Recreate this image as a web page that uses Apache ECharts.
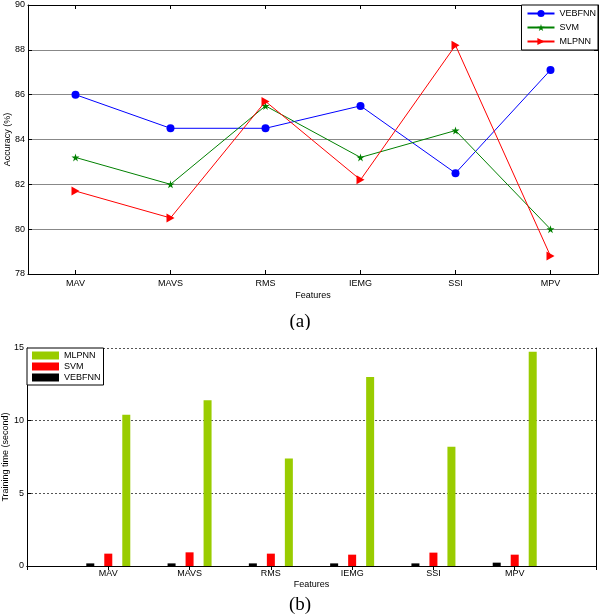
<!DOCTYPE html>
<html>
<head>
<meta charset="utf-8">
<script src="https://cdn.jsdelivr.net/npm/echarts@6/dist/echarts.min.js"></script>
<style>
html,body{margin:0;padding:0;background:#fff;}
#a{position:absolute;left:0;top:0;width:600px;height:330px;}
#b{position:absolute;left:0;top:330px;width:600px;height:286px;}
</style>
</head>
<body>
<div id="a"></div>
<div id="b"></div>
<script>
const categories = ['MAV', 'MAVS', 'RMS', 'IEMG', 'SSI', 'MPV'];
const accVEBFNN = [86.0, 84.5, 84.5, 85.5, 82.5, 87.1];
const accSVM = [83.2, 82.0, 85.5, 83.2, 84.4, 80.0];
const accMLPNN = [81.7, 80.5, 85.7, 82.2, 88.2, 78.8];
const accRange = [78, 90, 2];
const timeMLPNN = [10.4, 11.4, 7.4, 13.0, 8.2, 14.75];
const timeSVM = [0.85, 0.94, 0.85, 0.78, 0.92, 0.78];
const timeVEBFNN = [0.18, 0.18, 0.18, 0.18, 0.18, 0.23];
const timeRange = [0, 15, 5];

const FONT = 'Liberation Sans, Arial, sans-serif';
const STAR = 'path://M50,0 L61,35 L98,35 L68,57 L79,91 L50,70 L21,91 L32,57 L2,35 L39,35 Z';
const TRI = 'path://M0,0 L10,5 L0,10 Z';
const axLine = {show: true, lineStyle: {color: '#000', width: 1}};
const lab = {color: '#000', fontSize: 9, fontFamily: FONT};
const nameStyle = {fontSize: 9, fontFamily: FONT, color: '#000'};

// ---------- chart (a) ----------
const ca = echarts.init(document.getElementById('a'), null, {renderer: 'canvas'});
const lineSeries = (name, data, color, symbol, size) => ({
  name, type: 'line', data, xAxisIndex: 0, yAxisIndex: 0,
  symbol, symbolSize: size, showSymbol: true,
  lineStyle: {color, width: 1},
  itemStyle: {color},
  animation: false
});
ca.setOption({
  animation: false,
  title: {text: '(a)', left: 'center', top: 308,
    textStyle: {fontFamily: 'Liberation Serif, Times New Roman, serif', fontSize: 19, fontWeight: 'normal', color: '#000'}},
  grid: {left: 28, right: 2, top: 5, bottom: 56, outerBoundsMode: 'none', containLabel: false},
  legend: {
    right: 2, top: 5, orient: 'vertical',
    data: ['VEBFNN', 'SVM', 'MLPNN'],
    itemWidth: 27, itemHeight: 9, itemGap: 5,
    padding: [4, 2, 4, 5],
    borderColor: '#000', borderWidth: 1, backgroundColor: '#fff',
    textStyle: {fontSize: 9, fontFamily: FONT, color: '#000'}
  },
  xAxis: [
    {type: 'category', data: categories, boundaryGap: true, position: 'bottom',
      axisLine: axLine, axisTick: {show: true, inside: true, alignWithLabel: true, length: 4, lineStyle: {color: '#000'}},
      axisLabel: Object.assign({margin: 5}, lab),
      name: 'Features', nameLocation: 'middle', nameGap: 17, nameMoveOverlap: false,
      nameTextStyle: nameStyle},
    {type: 'category', data: categories, boundaryGap: true, position: 'top',
      axisLine: axLine, axisTick: {show: true, inside: true, alignWithLabel: true, length: 4, lineStyle: {color: '#000'}},
      axisLabel: {show: false}}
  ],
  yAxis: [
    {type: 'value', min: accRange[0], max: accRange[1], interval: accRange[2], position: 'left',
      axisLine: axLine, axisTick: {show: true, inside: true, length: 4, lineStyle: {color: '#000'}},
      axisLabel: Object.assign({margin: 3}, lab),
      splitLine: {show: true, lineStyle: {color: '#888', width: 1.2}},
      name: 'Accuracy (%)', nameLocation: 'middle', nameGap: 16, nameMoveOverlap: false,
      nameTextStyle: nameStyle},
    {type: 'value', min: accRange[0], max: accRange[1], interval: accRange[2], position: 'right',
      axisLine: axLine, axisTick: {show: true, inside: true, length: 4, lineStyle: {color: '#000'}},
      axisLabel: {show: false}, splitLine: {show: false}}
  ],
  series: [
    lineSeries('VEBFNN', accVEBFNN, '#0000ff', 'circle', 8),
    lineSeries('SVM', accSVM, '#008000', STAR, 8),
    lineSeries('MLPNN', accMLPNN, '#ff0000', TRI, [8, 9])
  ]
});

// ---------- chart (b) ----------
const cb = echarts.init(document.getElementById('b'), null, {renderer: 'canvas'});
const padCats = [''].concat(categories, ['']);
const pad = arr => [null].concat(arr, [null]);
const barSeries = (name, data, color) => ({
  name, type: 'bar', data: pad(data), barWidth: 8, barGap: '125%',
  itemStyle: {color}, animation: false
});
cb.setOption({
  animation: false,
  title: {text: '(b)', left: 'center', top: 261,
    textStyle: {fontFamily: 'Liberation Serif, Times New Roman, serif', fontSize: 19, fontWeight: 'normal', color: '#000'}},
  grid: {left: 27, right: 4, top: 18, bottom: 50, outerBoundsMode: 'none', containLabel: false},
  legend: {
    left: 27, top: 18, orient: 'vertical',
    data: ['MLPNN', 'SVM', 'VEBFNN'],
    icon: 'rect',
    itemWidth: 27, itemHeight: 8, itemGap: 2,
    padding: [3, 3, 3, 5],
    borderColor: '#000', borderWidth: 1, backgroundColor: '#fff',
    textStyle: {fontSize: 9, fontFamily: FONT, color: '#000'}
  },
  xAxis: [
    {type: 'category', data: padCats, boundaryGap: false, position: 'bottom',
      axisLine: axLine, axisTick: {show: false},
      axisLabel: Object.assign({margin: 3, interval: 0}, lab),
      name: 'Features', nameLocation: 'middle', nameGap: 14, nameMoveOverlap: false,
      nameTextStyle: nameStyle},
    {type: 'category', data: padCats, boundaryGap: false, position: 'top',
      axisLine: axLine, axisTick: {show: true, inside: true, length: 4, interval: 0, lineStyle: {color: '#000'}},
      axisLabel: {show: false}}
  ],
  yAxis: [
    {type: 'value', min: timeRange[0], max: timeRange[1], interval: timeRange[2], position: 'left',
      axisLine: axLine, axisTick: {show: true, inside: true, length: 4, lineStyle: {color: '#000'}},
      axisLabel: Object.assign({margin: 3}, lab),
      splitLine: {show: true, lineStyle: {color: '#555', width: 1, type: [2, 2]}},
      name: 'Training time (second)', nameLocation: 'middle', nameGap: 17, nameMoveOverlap: false,
      nameTextStyle: nameStyle},
    {type: 'value', min: timeRange[0], max: timeRange[1], interval: timeRange[2], position: 'right',
      axisLine: axLine, axisTick: {show: false},
      axisLabel: {show: false}, splitLine: {show: false}}
  ],
  series: [
    barSeries('VEBFNN', timeVEBFNN, '#000000'),
    barSeries('SVM', timeSVM, '#ff0000'),
    barSeries('MLPNN', timeMLPNN, '#99cc00')
  ]
});
</script>
</body>
</html>
